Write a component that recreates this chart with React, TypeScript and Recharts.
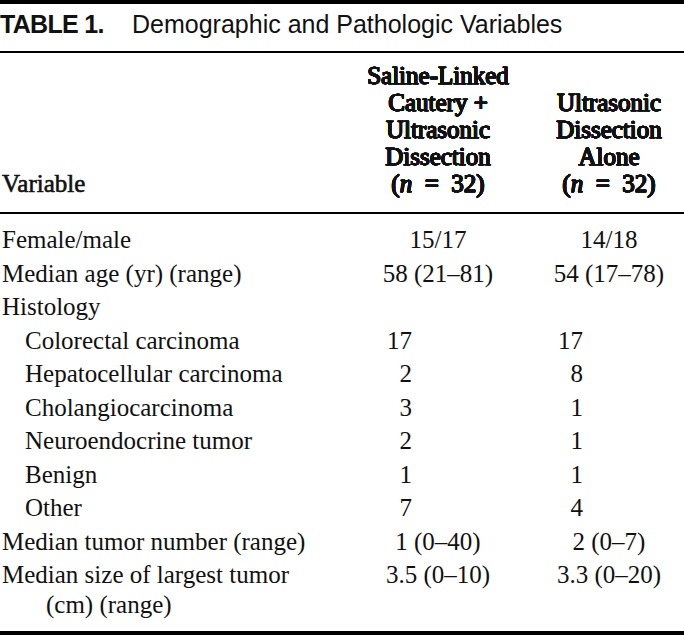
import React from "react";
import { ScatterChart, Scatter, XAxis, YAxis, Customized } from "recharts";

// ---- Table content ----
const titleLabel = "TABLE 1.";
const titleText = "Demographic and Pathologic Variables";
const variableHeader = "Variable";

const groups = [
  "Saline-Linked Cautery + Ultrasonic Dissection",
  "Ultrasonic Dissection Alone",
];
const groupHeaderLines = [
  ["Saline-Linked", "Cautery +", "Ultrasonic", "Dissection"],
  ["Ultrasonic", "Dissection", "Alone"],
];
const groupSizes = [32, 32];

const variables = [
  "Female/male",
  "Median age (yr) (range)",
  "Histology",
  "Colorectal carcinoma",
  "Hepatocellular carcinoma",
  "Cholangiocarcinoma",
  "Neuroendocrine tumor",
  "Benign",
  "Other",
  "Median tumor number (range)",
  "Median size of largest tumor",
];
const histologyTypes = [
  "Colorectal carcinoma",
  "Hepatocellular carcinoma",
  "Cholangiocarcinoma",
  "Neuroendocrine tumor",
  "Benign",
  "Other",
];
const continuationLines: Record<string, string> = {
  "Median size of largest tumor": "(cm) (range)",
};

const salineLinkedValues = [
  "15/17",
  "58 (21–81)",
  "",
  "17",
  "2",
  "3",
  "2",
  "1",
  "7",
  "1 (0–40)",
  "3.5 (0–10)",
];
const ultrasonicAloneValues = [
  "14/18",
  "54 (17–78)",
  "",
  "17",
  "8",
  "1",
  "1",
  "1",
  "4",
  "2 (0–7)",
  "3.3 (0–20)",
];

const seriesValues = [salineLinkedValues, ultrasonicAloneValues];

const cellData = seriesValues.map((vals, g) =>
  variables.map((v, i) => ({ variable: v, group: groups[g], value: vals[i] }))
);

// ---- Styles ----
const SERIF = "'Times New Roman', 'Liberation Serif', Times, serif";
const SANS = "'Liberation Sans', Arial, Helvetica, sans-serif";
const FS = 25;
const INK = "#111";

const W = 684;
const H = 635;
const LABEL_AXIS_W = 360;

const BoldText = (p: any) => (
  <text
    {...p}
    fontFamily={SERIF}
    fontSize={FS}
    fill={INK}
    stroke={INK}
    strokeWidth={0.6}
    style={{ whiteSpace: "pre" }}
  />
);

const GroupHeaderTick = (props: any) => {
  const { x, payload } = props;
  const idx = groups.indexOf(payload.value);
  const lines = [...(groupHeaderLines[idx] || [])];
  const base = 192;
  const pitch = 27;
  const n = lines.length;
  return (
    <g>
      {lines.map((ln, k) => (
        <BoldText key={k} x={x} y={base - (n - k) * pitch} textAnchor="middle">
          {ln}
        </BoldText>
      ))}
      <BoldText x={x} y={base} textAnchor="middle">
        (<tspan fontStyle="italic">n</tspan>
        {"  =  " + groupSizes[idx] + ")"}
      </BoldText>
    </g>
  );
};

const VariableTick = (props: any) => {
  const { y, payload } = props;
  const name: string = payload.value;
  const indented = histologyTypes.includes(name);
  const cont = continuationLines[name];
  return (
    <g>
      <text
        x={indented ? 25 : 2}
        y={y}
        textAnchor="start"
        fontFamily={SERIF}
        fontSize={FS}
        fill={INK}
      >
        {name}
      </text>
      {cont ? (
        <text
          x={46}
          y={y + 30}
          textAnchor="start"
          fontFamily={SERIF}
          fontSize={FS}
          fill={INK}
        >
          {cont}
        </text>
      ) : null}
    </g>
  );
};

const CellShape = (props: any) => {
  const { cx, cy, payload } = props;
  if (!payload || !payload.value) return <g />;
  const isCount = histologyTypes.includes(payload.variable);
  return (
    <text
      x={isCount ? cx - 26 : cx}
      y={cy}
      textAnchor={isCount ? "end" : "middle"}
      fontFamily={SERIF}
      fontSize={FS}
      fill={INK}
    >
      {payload.value}
    </text>
  );
};

const Frame = () => (
  <g>
    <rect x={0} y={0} width={W} height={4} fill="#000" />
    <text
      x={0}
      y={33}
      fontFamily={SANS}
      fontSize={25}
      fontWeight="bold"
      letterSpacing={-0.7}
      fill={INK}
    >
      {titleLabel}
    </text>
    <text x={132} y={33} fontFamily={SANS} fontSize={25} fill={INK}>
      {titleText}
    </text>
    <rect x={0} y={51} width={W} height={2} fill="#000" />
    <BoldText x={2} y={192}>
      {variableHeader}
    </BoldText>
    <rect x={0} y={212} width={W} height={2} fill="#000" />
    <rect x={0} y={631} width={W} height={4} fill="#000" />
  </g>
);

export default function App() {
  return (
    <div style={{ width: W, height: H, background: "#fff" }}>
      <style>{"body{margin:0;background:#fff;}"}</style>
      <ScatterChart
        width={W}
        height={H}
        margin={{ top: 0, right: 0, bottom: 52, left: 0 }}
      >
        <XAxis
          xAxisId="cols"
          type="category"
          dataKey="group"
          scale="point"
          orientation="top"
          height={248}
          padding={{ left: 438 - LABEL_AXIS_W, right: 75 }}
          allowDuplicatedCategory={false}
          axisLine={false}
          tickLine={false}
          interval={0}
          tick={<GroupHeaderTick />}
        />
        <YAxis
          yAxisId="rows"
          type="category"
          dataKey="variable"
          scale="point"
          reversed
          width={LABEL_AXIS_W}
          allowDuplicatedCategory={false}
          axisLine={false}
          tickLine={false}
          interval={0}
          tick={<VariableTick />}
        />
        <Customized component={Frame} />
        {cellData.map((d, g) => (
          <Scatter
            key={g}
            name={groups[g]}
            data={d}
            xAxisId="cols"
            yAxisId="rows"
            isAnimationActive={false}
            shape={<CellShape />}
          />
        ))}
      </ScatterChart>
    </div>
  );
}
